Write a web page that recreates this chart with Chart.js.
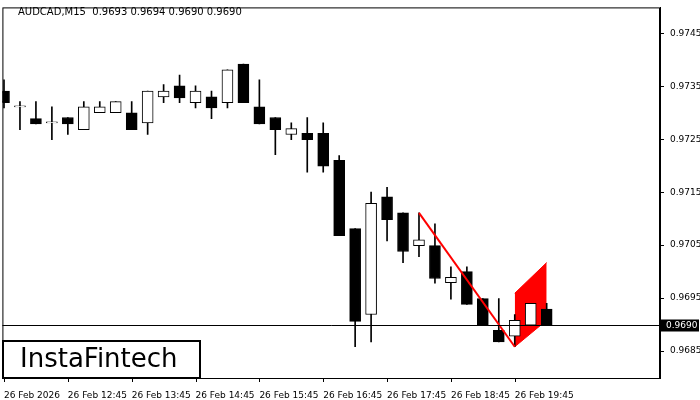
<!DOCTYPE html>
<html><head><meta charset="utf-8">
<script src="https://cdn.jsdelivr.net/npm/chart.js@4"></script>
<style>body{margin:0;background:#fff}#w{width:700px;height:400px}</style>
</head><body><div id="w"><canvas id="c"></canvas></div>
<script>
const opens  = [0.97341,0.97311,0.97289,0.97281,0.97291,0.97268,0.97300,0.97300,0.97300,0.97281,0.97330,0.97351,0.97319,0.97330,0.97319,0.97392,0.97311,0.97291,0.97259,0.97261,0.97261,0.97210,0.97081,0.96919,0.97141,0.97111,0.97049,0.97049,0.96979,0.97000,0.96949,0.96889,0.96878,0.96899,0.96929];
const highs  = [0.97362,0.97321,0.97321,0.97311,0.97291,0.97321,0.97321,0.97321,0.97321,0.97341,0.97353,0.97371,0.97351,0.97341,0.97381,0.97392,0.97362,0.97291,0.97281,0.97291,0.97281,0.97219,0.97081,0.97150,0.97159,0.97111,0.97111,0.97090,0.97009,0.97009,0.96949,0.96949,0.96919,0.96940,0.96940];
const lows   = [0.97309,0.97268,0.97279,0.97249,0.97259,0.97268,0.97300,0.97300,0.97268,0.97259,0.97319,0.97319,0.97309,0.97289,0.97309,0.97319,0.97279,0.97221,0.97249,0.97188,0.97188,0.97068,0.96858,0.96867,0.97058,0.97017,0.97028,0.96978,0.96948,0.96938,0.96899,0.96867,0.96858,0.96899,0.96899];
const closes = [0.97319,0.97311,0.97279,0.97281,0.97279,0.97311,0.97311,0.97321,0.97268,0.97341,0.97341,0.97328,0.97341,0.97309,0.97381,0.97319,0.97279,0.97268,0.97270,0.97249,0.97199,0.97068,0.96906,0.97129,0.97098,0.97038,0.97060,0.96987,0.96989,0.96938,0.96899,0.96867,0.96908,0.96940,0.96899];
const timeLabels = ["26 Feb 2026","26 Feb 12:45","26 Feb 13:45","26 Feb 14:45","26 Feb 15:45","26 Feb 16:45","26 Feb 17:45","26 Feb 18:45","26 Feb 19:45"];
const priceTicks = [0.9685,0.9695,0.9705,0.9715,0.9725,0.9735,0.9745];
const flagPole = [[26,0.97111],[32,0.96858]];
const flagUpper = [[32,0.96959],[34,0.97017]];
const flagLower = [[32,0.96858],[34,0.96908]];
const currentPrice = 0.9690;
const titleText = "AUDCAD,M15  0.9693 0.9694 0.9690 0.9690";

const idx = opens.map((_,i)=>i);
const bodyColors = idx.map(i=>closes[i]<opens[i]?'#000':'#fff');

const overlay = {
  id:'overlay',
  afterDatasetsDraw(ch){
    const {ctx,chartArea:a,scales:{x,y}}=ch;
    ctx.save();
    const py=Math.round(y.getPixelForValue(currentPrice))+0.5;
    ctx.strokeStyle='#000';ctx.lineWidth=1;
    ctx.beginPath();ctx.moveTo(a.left,py);ctx.lineTo(a.right,py);ctx.stroke();
    ctx.strokeRect(a.left+0.5,a.top+0.5,a.right-a.left-1,a.bottom-a.top);
    ctx.beginPath();
    timeLabels.forEach((_,k)=>{const px=Math.round(x.getPixelForValue(k*4))+0.5;ctx.moveTo(px,a.bottom);ctx.lineTo(px,a.bottom+4);});
    priceTicks.forEach(v=>{const p=Math.round(y.getPixelForValue(v))+0.5;ctx.moveTo(a.right,p);ctx.lineTo(a.right+4,p);});
    ctx.stroke();
    ctx.fillStyle='#000';ctx.fillRect(a.right+1,py-6,38,12);
    ctx.fillStyle='#fff';ctx.font='9px "DejaVu Sans"';ctx.textBaseline='middle';
    ctx.fillText(currentPrice.toFixed(4),a.right+6,py);
    ctx.fillStyle='#000';ctx.font='10px "DejaVu Sans"';ctx.textBaseline='top';
    ctx.fillText(titleText,18,7);
    ctx.fillStyle='#fff';ctx.fillRect(3,341,197,37);
    ctx.strokeStyle='#000';ctx.lineWidth=2;ctx.strokeRect(3,341,197,37);
    ctx.fillStyle='#000';ctx.font='26px "DejaVu Sans"';ctx.textBaseline='middle';
    ctx.fillText('InstaFintech',20,360);
    ctx.restore();
  }
};

new Chart(document.getElementById('c'),{
  data:{datasets:[
    {type:'line',data:flagPole.map(p=>({x:p[0],y:p[1]})),borderColor:'#f00',borderWidth:2,pointRadius:0,order:0},
    {type:'bar',data:idx.map(i=>({x:i,y:[lows[i],highs[i]]})),backgroundColor:'#000',barThickness:1,grouped:false,order:2},
    {type:'bar',data:idx.map(i=>({x:i,y:[opens[i],closes[i]]})),backgroundColor:bodyColors,borderColor:'#000',borderWidth:1,borderSkipped:false,barThickness:11,minBarLength:1,grouped:false,order:1},
    {type:'line',data:flagUpper.map(p=>({x:p[0],y:p[1]})),borderColor:'#f00',borderWidth:1,pointRadius:0,fill:'+1',backgroundColor:'#f00',order:3},
    {type:'line',data:flagLower.map(p=>({x:p[0],y:p[1]})),borderColor:'#f00',borderWidth:1,pointRadius:0,order:3}
  ]},
  options:{
    responsive:true,maintainAspectRatio:false,animation:false,
    layout:{padding:{left:2,top:0,right:0,bottom:0}},
    plugins:{legend:{display:false},tooltip:{enabled:false}},
    scales:{
      x:{type:'linear',offset:false,min:-0.1,max:41.1,grid:{display:false},border:{color:'#000'},
        afterBuildTicks(s){s.ticks=timeLabels.map((_,k)=>({value:k*4}));},
        afterFit(s){s.height=22;},
        ticks:{autoSkip:false,maxRotation:0,align:'start',padding:4,color:'#000',font:{size:9,family:'DejaVu Sans'},
          callback:(v)=>timeLabels[v/4]}},
      y:{position:'right',min:0.96799,max:0.97499,grid:{display:false},border:{color:'#000'},
        afterBuildTicks(s){s.ticks=priceTicks.map(v=>({value:v}));},
        afterFit(s){s.width=40;},
        ticks:{color:'#000',padding:2,font:{size:9,family:'DejaVu Sans'},callback:v=>v.toFixed(4)}}
    }
  },
  plugins:[overlay]
});
</script></body></html>
